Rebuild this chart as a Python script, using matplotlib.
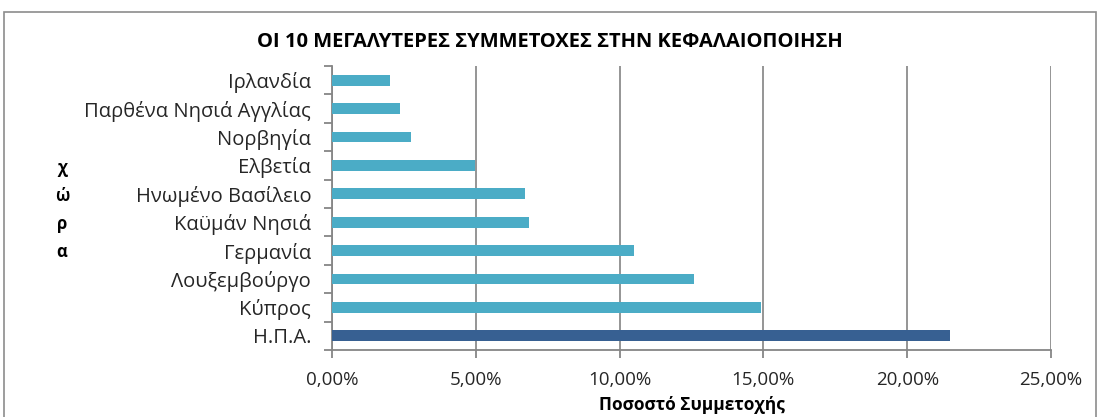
import matplotlib.pyplot as plt
from matplotlib.patches import Rectangle
from matplotlib.ticker import FuncFormatter

countries = ['Η.Π.Α.', 'Κύπρος', 'Λουξεμβούργο', 'Γερμανία', 'Καϋμάν Νησιά',
             'Ηνωμένο Βασίλειο', 'Ελβετία', 'Νορβηγία', 'Παρθένα Νησιά Αγγλίας', 'Ιρλανδία']
shares = [21.5, 14.9, 12.6, 10.49, 6.86, 6.71, 4.98, 2.73, 2.35, 2.02]
bar_colors = ['#376092'] + ['#4BACC6'] * 9
xticks = [0, 5, 10, 15, 20, 25]

plt.rcParams['font.family'] = ['Open Sans', 'DejaVu Sans']

W, H = 1100, 417
fig = plt.figure(figsize=(W / 100, H / 100), dpi=100)
ax = fig.add_axes([332 / W, 1 - 350 / H, (1051 - 332) / W, (350 - 66) / H])

ax.barh(range(len(countries)), shares, height=0.38, color=bar_colors, zorder=3)
ax.set_xlim(0, 25)
ax.set_ylim(-0.5, len(countries) - 0.5)
ax.set_xticks(xticks)
ax.xaxis.set_major_formatter(FuncFormatter(lambda v, p: f'{v:.2f}%'.replace('.', ',')))
ax.set_yticks(range(len(countries)))
ax.set_yticklabels(countries)
ax.set_yticks([i - 0.5 for i in range(len(countries) + 1)], minor=True)
ax.tick_params(axis='y', which='major', length=0, pad=15, labelsize=14.5, labelcolor='#262626')
ax.tick_params(axis='y', which='minor', length=6, color='#868686', width=1.3)
ax.tick_params(axis='x', length=6, color='#868686', width=1.3, pad=9, labelsize=13.5,
               labelcolor='#262626')
ax.grid(axis='x', color='#8c8c8c', linewidth=1.3, zorder=0)
for s in ['top', 'right']:
    ax.spines[s].set_visible(False)
for s in ['left', 'bottom']:
    ax.spines[s].set_color('#868686')
    ax.spines[s].set_linewidth(1.3)

ax.set_xlabel('Ποσοστό Συμμετοχής', fontsize=12.5, fontweight='bold', labelpad=5)
fig.text(0.5, 1 - 42 / H, 'ΟΙ 10 ΜΕΓΑΛΥΤΕΡΕΣ ΣΥΜΜΕΤΟΧΕΣ ΣΤΗΝ ΚΕΦΑΛΑΙΟΠΟΙΗΣΗ',
         ha='center', va='center', fontsize=14.5, fontweight='bold')
fig.text(62 / W, 1 - 210 / H, 'χ\nώ\nρ\nα', ha='center', va='center', fontsize=12,
         fontweight='bold', linespacing=1.7)

fig.patches.append(Rectangle((4 / W, -0.1), (1096 - 4) / W, 1.1 - 12 / H,
                             transform=fig.transFigure, fill=False,
                             edgecolor='#8c8c8c', linewidth=1.2))

fig.savefig('out.png', dpi=100)
